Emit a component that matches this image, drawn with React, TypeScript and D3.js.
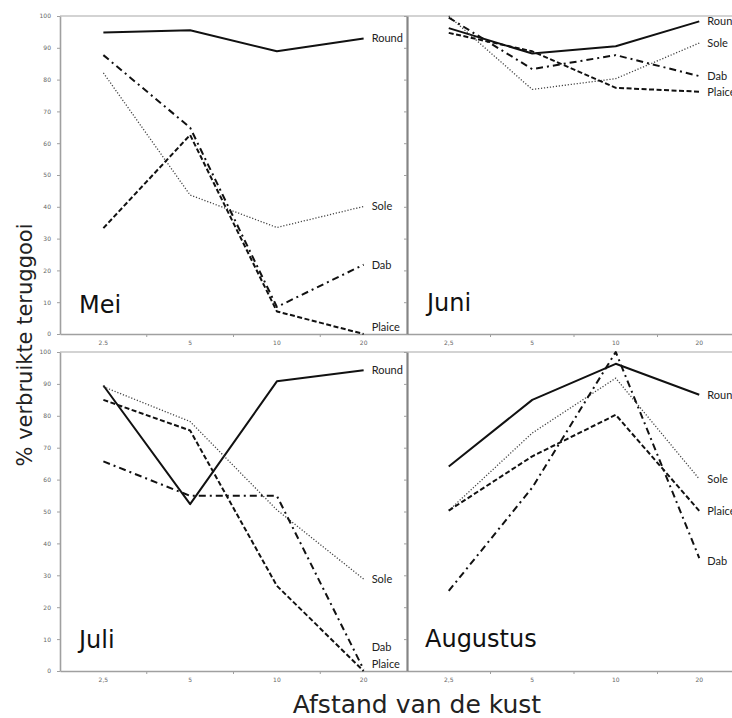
import { useEffect, useRef } from "react";
import * as d3 from "d3";

// afstand van de kust (km)
const distances = ["2.5", "5", "10", "20"];
const tickLabelsMei = ["2.5", "5", "10", "20"];
const tickLabels = ["2,5", "5", "10", "20"];
const species = ["Round", "Sole", "Dab", "Plaice"];
const yTicks = [0, 10, 20, 30, 40, 50, 60, 70, 80, 90, 100];

// % verbruikte teruggooi, per species (Round, Sole, Dab, Plaice)
const mei = [
  [94.8, 95.5, 88.9, 92.9],
  [82.1, 43.7, 33.5, 40.1],
  [87.7, 64.9, 8.5, 21.8],
  [33.3, 62.6, 7.1, 0],
];
const juni = [
  [96.2, 88.2, 90.5, 98.3],
  [100, 76.9, 80.3, 91.5],
  [99.5, 83.3, 87.7, 81.1],
  [94.7, 88.9, 77.4, 76.2],
];
const juli = [
  [89.5, 52.3, 90.8, 94.3],
  [89.1, 78.2, 50.5, 28.8],
  [65.7, 54.9, 54.9, 0.5],
  [85.0, 75.4, 26.7, 0],
];
const augustus = [
  [64.1, 85.0, 96.3, 86.6],
  [50.3, 74.6, 91.8, 60.2],
  [25.1, 57.5, 100, 35.4],
  [50.3, 67.3, 80.3, 50.2],
];

// where the species name sits (value units)
const meiLabelAt = [92.9, 40.1, 21.8, 2];
const juniLabelAt = [98.3, 91.5, 81.1, 76.2];
const juliLabelAt = [94.3, 28.8, 7.5, 2];
const augustusLabelAt = [86.6, 60.2, 34.5, 50.2];

const styles = [
  { width: 2, dash: null, color: "#111" },
  { width: 1.3, dash: "1.2,1.8", color: "#444" },
  { width: 2, dash: "7,4,2,4", color: "#111" },
  { width: 2, dash: "5,2.5", color: "#111" },
];

function App() {
  const svgRef = useRef<SVGSVGElement>(null);
  const width = 732, height = 718;

  useEffect(() => {
    const svg = d3.select(svgRef.current);
    svg.selectAll("*").remove();

    const panels = [
      { name: "Mei", data: mei, labelAt: meiLabelAt, ticks: tickLabelsMei, x0: 60, x1: 407, y0: 16, y1: 334, left: true, tx: 79, ty: 313 },
      { name: "Juli", data: juli, labelAt: juliLabelAt, ticks: tickLabels, x0: 60, x1: 407, y0: 352, y1: 671, left: true, tx: 79, ty: 648 },
      { name: "Juni", data: juni, labelAt: juniLabelAt, ticks: tickLabels, x0: 407, x1: 741, y0: 16, y1: 334, left: false, tx: 427, ty: 311 },
      { name: "Augustus", data: augustus, labelAt: augustusLabelAt, ticks: tickLabels, x0: 407, x1: 741, y0: 352, y1: 671, left: false, tx: 425, ty: 647 },
    ];

    panels.forEach((p) => {
      const x = d3.scaleBand().domain(distances).range([p.x0, p.x1]);
      const y = d3.scaleLinear().domain([0, 100]).range([p.y1, p.y0]);
      const g = svg.append("g");

      // top border of plot area
      g.append("line")
        .attr("x1", p.x0).attr("x2", p.x1)
        .attr("y1", p.y0).attr("y2", p.y0)
        .attr("stroke", "#a8a8a8").attr("stroke-width", 1.2);

      // x axis
      const xAxis = g.append("g")
        .attr("transform", `translate(0,${p.y1})`)
        .call(d3.axisBottom(x).tickSize(0).tickSizeOuter(0).tickPadding(7)
          .tickFormat((d, i) => p.ticks[i]));
      xAxis.select(".domain").attr("stroke", "#a0a0a0").attr("stroke-width", 1.6);
      xAxis.selectAll("text").attr("font-size", 6).attr("fill", "#666")
        .attr("font-family", "DejaVu Sans");
      xAxis.selectAll(".bound")
        .data(distances.slice(1))
        .enter().append("line")
        .attr("x1", (d) => x(d)).attr("x2", (d) => x(d))
        .attr("y1", 0).attr("y2", 3)
        .attr("stroke", "#a0a0a0");

      // y axis
      const yAxis = g.append("g")
        .attr("transform", `translate(${p.x0},0)`)
        .call(d3.axisLeft(y).tickValues(yTicks).tickSize(3).tickSizeOuter(0).tickPadding(6)
          .tickFormat((d) => (p.left ? String(d) : "")));
      yAxis.select(".domain")
        .attr("stroke", p.left ? "#a0a0a0" : "#858585")
        .attr("stroke-width", p.left ? 1.6 : 2.2);
      yAxis.selectAll(".tick line").attr("stroke", "#a0a0a0");
      yAxis.selectAll("text").attr("font-size", 6).attr("fill", "#666")
        .attr("font-family", "DejaVu Sans");

      const line = d3.line<number>()
        .x((d, i) => (x(distances[i]) as number) + x.bandwidth() / 2)
        .y((d) => y(d));

      p.data.forEach((vals, k) => {
        const st = styles[k];
        g.append("path")
          .attr("d", line(vals))
          .attr("fill", "none")
          .attr("stroke", st.color)
          .attr("stroke-width", st.width)
          .attr("stroke-dasharray", st.dash)
          .attr("stroke-linejoin", "round");

        g.append("text")
          .attr("x", (x("20") as number) + x.bandwidth() / 2 + 8)
          .attr("y", y(p.labelAt[k]))
          .attr("dy", "0.35em")
          .attr("font-family", "Lato, 'Open Sans', sans-serif")
          .attr("font-size", 11)
          .attr("fill", "#222")
          .text(species[k]);
      });

      g.append("text")
        .attr("x", p.tx).attr("y", p.ty)
        .attr("font-family", "DejaVu Sans")
        .attr("font-size", 24)
        .attr("fill", "#111")
        .text(p.name);
    });

    svg.append("text")
      .attr("transform", `translate(32,345) rotate(-90)`)
      .attr("text-anchor", "middle")
      .attr("font-family", "DejaVu Sans")
      .attr("font-size", 21)
      .attr("fill", "#222")
      .text("% verbruikte teruggooi");

    svg.append("text")
      .attr("x", 417).attr("y", 713)
      .attr("text-anchor", "middle")
      .attr("font-family", "DejaVu Sans")
      .attr("font-size", 25)
      .attr("fill", "#222")
      .text("Afstand van de kust");
  }, []);

  return (
    <svg
      ref={svgRef}
      width={width}
      height={height}
      style={{ position: "absolute", left: 0, top: 0, background: "#fff" }}
    ></svg>
  );
}

export default App;
